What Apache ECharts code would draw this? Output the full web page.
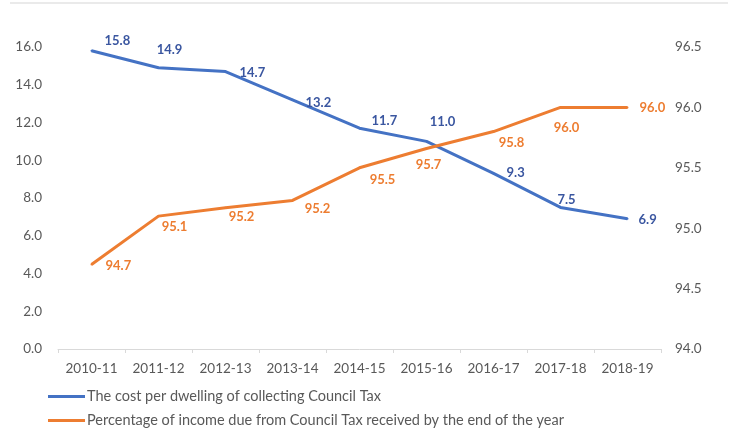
<!DOCTYPE html>
<html>
<head>
<meta charset="utf-8">
<script src="https://cdn.jsdelivr.net/npm/echarts@6/dist/echarts.min.js"></script>
<style>
  html, body { margin: 0; padding: 0; background: #ffffff; }
  #chart { width: 737px; height: 432px; }
</style>
</head>
<body>
<div id="chart"></div>
<script>
// Financial years on the category axis
const years = ['2010-11', '2011-12', '2012-13', '2013-14', '2014-15', '2015-16', '2016-17', '2017-18', '2018-19'];

// Cost per dwelling of collecting Council Tax (left axis)
const costPerDwelling = [15.8, 14.9, 14.7, 13.2, 11.7, 11.0, 9.3, 7.5, 6.9];

// Percentage of income due received by year end (right axis)
const pctCollected = [94.7, 95.1, 95.17, 95.23, 95.5, 95.66, 95.8, 96.0, 96.0];

const seriesNames = [
  'The cost per dwelling of collecting Council Tax',
  'Percentage of income due from Council Tax received by the end of the year'
];

// Label placement for each point: [position, dx, dy]
const costLabelPlace = [
  ['right', 8, -10], ['top', 11, -6], ['right', 9, 1], ['right', 8, 3], ['right', 7, -7],
  ['top', 16, -8], ['right', 8, -1], ['top', 6, 4], ['right', 6, 1]
];
const pctLabelPlace = [
  ['right', 9, 1], ['bottom', 16, -1], ['bottom', 16, -2], ['bottom', 25, -3], ['bottom', 23, 1],
  ['bottom', 2, 5], ['bottom', 18, 0], ['bottom', 6, 9], ['right', 7, 0]
];

const BLUE = '#4472C4';
const BLUE_TEXT = '#3A56A0';
const ORANGE = '#ED7D31';
const AXIS_TEXT = '#595959';
const FONT = 'Lato';

function withLabels(values, place, color) {
  return values.map((v, i) => ({
    value: v,
    label: {
      position: place[i][0],
      offset: [place[i][1], place[i][2]],
      color: color
    }
  }));
}

// One legend row per series, stacked under the axis
function legendRow(name, top) {
  return {
    orient: 'horizontal',
    left: 48,
    top: top,
    padding: 0,
    itemWidth: 37,
    itemHeight: 3,
    icon: 'rect',
    textStyle: { color: AXIS_TEXT, fontSize: 14.5, fontFamily: FONT, padding: [0, 0, 0, -3] },
    data: [name]
  };
}

const chart = echarts.init(document.getElementById('chart'), null, { renderer: 'canvas' });

chart.setOption({
  animation: false,
  backgroundColor: '#ffffff',
  textStyle: { fontFamily: FONT },
  graphic: [{
    type: 'line',
    shape: { x1: 10, y1: 3, x2: 728, y2: 3 },
    style: { stroke: '#e3e3e3', lineWidth: 1.5 },
    silent: true
  }],
  grid: { left: 58, right: 76, top: 47, bottom: 83 },
  legend: [legendRow(seriesNames[0], 389), legendRow(seriesNames[1], 413)],
  xAxis: {
    type: 'category',
    data: years,
    boundaryGap: true,
    axisLine: { show: true, lineStyle: { color: '#d9d9d9', width: 1 } },
    axisTick: { show: true, length: 4, inside: false, lineStyle: { color: '#d9d9d9' } },
    axisLabel: { color: AXIS_TEXT, fontSize: 13.5, margin: 13, interval: 0, fontFamily: FONT }
  },
  yAxis: [{
    type: 'value',
    min: 0, max: 16, interval: 2,
    position: 'left',
    axisLine: { show: false },
    axisTick: { show: false },
    splitLine: { show: false },
    axisLabel: { color: AXIS_TEXT, fontSize: 13.5, margin: 16, fontFamily: FONT,
      formatter: v => v.toFixed(1) }
  }, {
    type: 'value',
    min: 94, max: 96.5, interval: 0.5,
    position: 'right',
    axisLine: { show: false },
    axisTick: { show: false },
    splitLine: { show: false },
    axisLabel: { color: AXIS_TEXT, fontSize: 13.5, margin: 14, fontFamily: FONT,
      formatter: v => v.toFixed(1) }
  }],
  series: [{
    name: seriesNames[0],
    type: 'line',
    yAxisIndex: 0,
    data: withLabels(costPerDwelling, costLabelPlace, BLUE_TEXT),
    symbol: 'circle',
    symbolSize: 2,
    itemStyle: { color: BLUE },
    lineStyle: { color: BLUE, width: 3 },
    label: {
      show: true, fontSize: 13, fontWeight: 'bold', fontFamily: FONT, distance: 4,
      formatter: p => p.value.toFixed(1)
    }
  }, {
    name: seriesNames[1],
    type: 'line',
    yAxisIndex: 1,
    data: withLabels(pctCollected, pctLabelPlace, ORANGE),
    symbol: 'circle',
    symbolSize: 2,
    itemStyle: { color: ORANGE },
    lineStyle: { color: ORANGE, width: 3 },
    label: {
      show: true, fontSize: 13, fontWeight: 'bold', fontFamily: FONT, distance: 4,
      formatter: p => p.value.toFixed(1)
    }
  }]
});
</script>
</body>
</html>
